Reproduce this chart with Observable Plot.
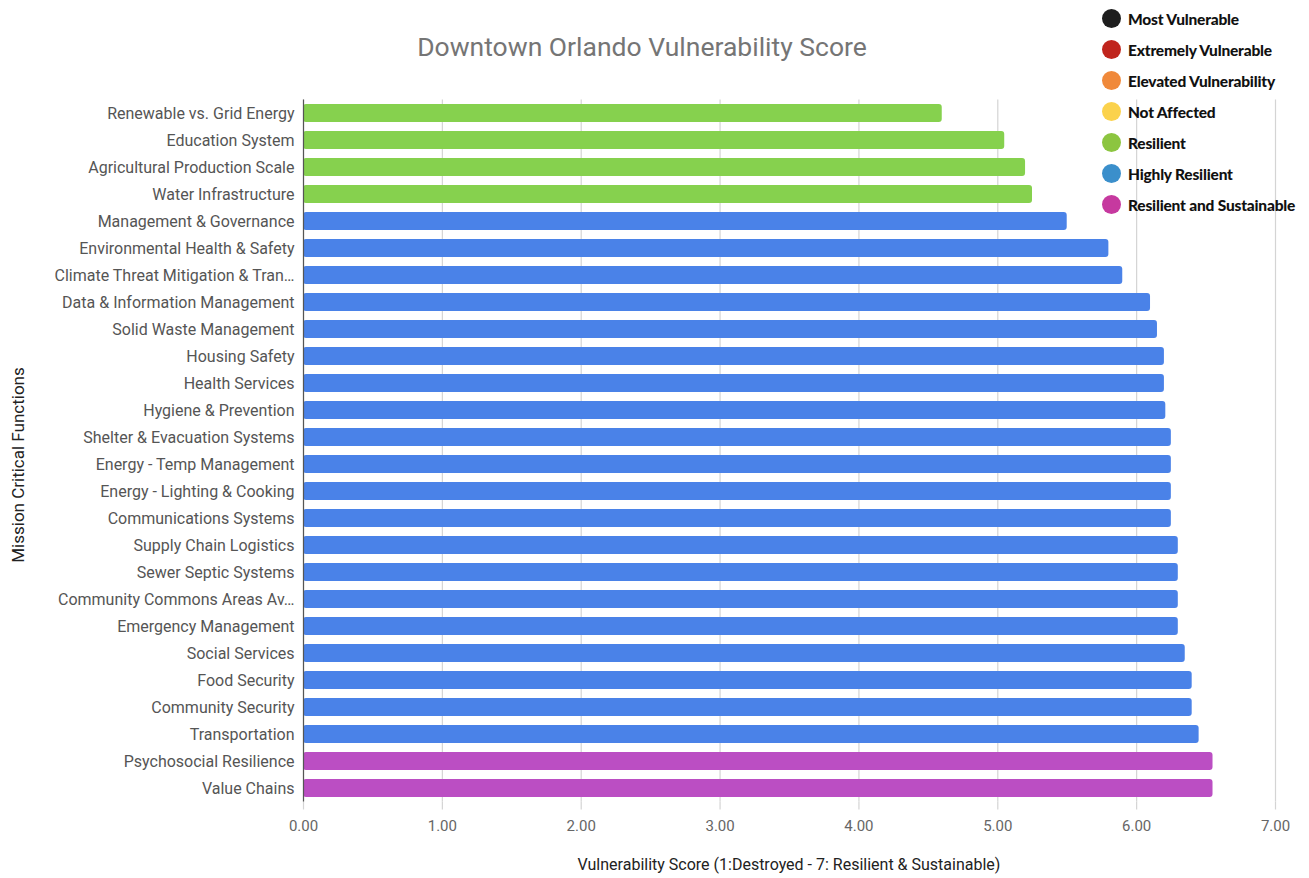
<!DOCTYPE html>
<html>
<head>
<meta charset="utf-8">
<script src="https://cdn.jsdelivr.net/npm/d3@7"></script>
<script src="https://cdn.jsdelivr.net/npm/@observablehq/plot@0.6"></script>
<style>
  body { margin: 0; background: #fff; }
  #wrap { position: relative; width: 1309px; height: 878px; overflow: hidden; font-family: Roboto, "Noto Sans", sans-serif; }
  #chart { position: absolute; left: 0; top: 0; }
  .title { position: absolute; left: 0; width: 1284px; top: 31px; text-align: center; font-size: 26.5px; color: #757575; }
  .xlabel { position: absolute; left: 303px; width: 972px; top: 855px; text-align: center; font-size: 16px; color: #222; }
  .ylabel { position: absolute; left: 18px; top: 465px; font-size: 17px; color: #222; transform: translate(-50%, -50%) rotate(-90deg); white-space: nowrap; }
  #legend { position: absolute; left: 1102px; top: 3px; font-family: Lato, "Open Sans", sans-serif; }
  .li { display: flex; align-items: center; height: 31px; font-weight: 900; font-size: 15.5px; color: #111; letter-spacing: -0.2px; }
  .dot { width: 19px; height: 19px; border-radius: 50%; margin-right: 7px; }
</style>
</head>
<body>
<div id="wrap">
  <div id="chart"></div>
  <div class="title">Downtown Orlando Vulnerability Score</div>
  <div class="xlabel">Vulnerability Score (1:Destroyed - 7: Resilient &amp; Sustainable)</div>
  <div class="ylabel">Mission Critical Functions</div>
  <div id="legend"></div>
</div>
<script>
const categories = [
  "Renewable vs. Grid Energy",
  "Education System",
  "Agricultural Production Scale",
  "Water Infrastructure",
  "Management & Governance",
  "Environmental Health & Safety",
  "Climate Threat Mitigation & Tran…",
  "Data & Information Management",
  "Solid Waste Management",
  "Housing Safety",
  "Health Services",
  "Hygiene & Prevention",
  "Shelter & Evacuation Systems",
  "Energy - Temp Management",
  "Energy - Lighting & Cooking",
  "Communications Systems",
  "Supply Chain Logistics",
  "Sewer Septic Systems",
  "Community Commons Areas Av…",
  "Emergency Management",
  "Social Services",
  "Food Security",
  "Community Security",
  "Transportation",
  "Psychosocial Resilience",
  "Value Chains"
];
const scores = [4.60, 5.05, 5.20, 5.25, 5.50, 5.80, 5.90, 6.10, 6.15, 6.20, 6.20, 6.21, 6.25, 6.25, 6.25, 6.25, 6.30, 6.30, 6.30, 6.30, 6.35, 6.40, 6.40, 6.45, 6.55, 6.55];
const groups = ["Resilient","Resilient","Resilient","Resilient",
  "Highly Resilient","Highly Resilient","Highly Resilient","Highly Resilient","Highly Resilient",
  "Highly Resilient","Highly Resilient","Highly Resilient","Highly Resilient","Highly Resilient",
  "Highly Resilient","Highly Resilient","Highly Resilient","Highly Resilient","Highly Resilient",
  "Highly Resilient","Highly Resilient","Highly Resilient","Highly Resilient","Highly Resilient",
  "Resilient and Sustainable","Resilient and Sustainable"];
const barGroups = ["Resilient", "Highly Resilient", "Resilient and Sustainable"];
const barColors = ["#86d14e", "#4a82e8", "#bb4ec3"];
const xTicks = [0, 1, 2, 3, 4, 5, 6, 7];
const legendLabels = ["Most Vulnerable", "Extremely Vulnerable", "Elevated Vulnerability", "Not Affected", "Resilient", "Highly Resilient", "Resilient and Sustainable"];
const legendColors = ["#1e1e1e", "#c0251d", "#f0893a", "#fbd24c", "#8cc540", "#3b8fcb", "#c6399f"];

const data = categories.map((c, i) => ({category: c, score: scores[i], group: groups[i]}));

const chart = Plot.plot({
  width: 1309,
  height: 878,
  marginLeft: 303,
  marginRight: 34,
  marginTop: 99.5,
  marginBottom: 76.5,
  style: {fontFamily: "Roboto, 'Noto Sans', sans-serif", background: "white"},
  x: {domain: [0, 7], label: null},
  y: {domain: categories, paddingInner: 0.33, paddingOuter: 0.165, round: false, label: null},
  color: {domain: barGroups, range: barColors},
  marks: [
    Plot.gridX(xTicks, {stroke: "#d4d4d4", strokeOpacity: 1, strokeWidth: 1.2}),
    Plot.axisX(xTicks, {tickSize: 8, stroke: "#d4d4d4", strokeWidth: 1.2, tickPadding: 10, fontSize: 15, fill: "#666", tickFormat: d3.format(".2f"), label: null}),
    Plot.axisY({tickSize: 0, tickPadding: 9, fontSize: 16, fill: "#555", label: null}),
    Plot.barX(data, {y: "category", x: "score", fill: "group", rx: 3}),
    Plot.ruleX([0], {stroke: "#555", strokeWidth: 1.2})
  ]
});
document.getElementById("chart").appendChild(chart);

const legend = document.getElementById("legend");
legendLabels.forEach((l, i) => {
  const row = document.createElement("div");
  row.className = "li";
  const dot = document.createElement("span");
  dot.className = "dot";
  dot.style.background = legendColors[i];
  const t = document.createElement("span");
  t.textContent = l;
  row.appendChild(dot);
  row.appendChild(t);
  legend.appendChild(row);
});
</script>
</body>
</html>
